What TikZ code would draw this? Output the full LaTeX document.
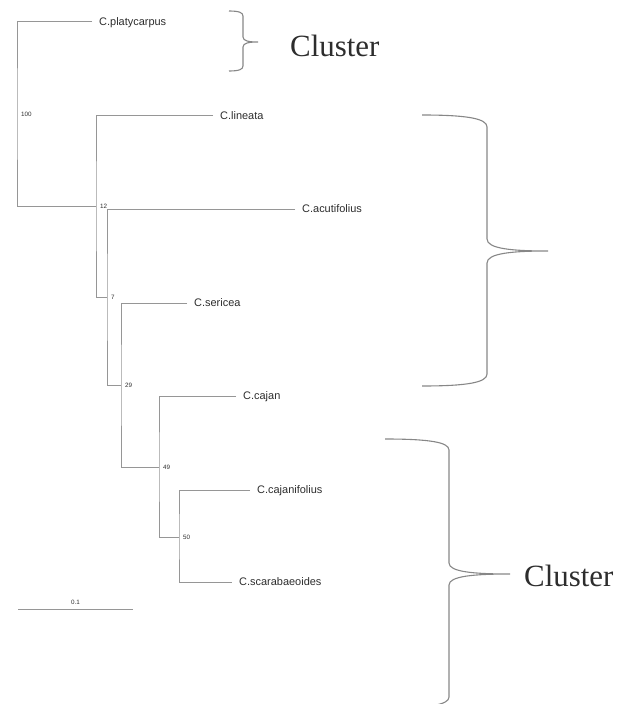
\documentclass[tikz,border=0pt]{standalone}
\usepackage{fontspec}
\setmainfont{Liberation Serif}
\newfontfamily\taxfont{Liberation Sans}
\usetikzlibrary{positioning}
\definecolor{branchgray}{RGB}{150,150,150}
\definecolor{textgray}{RGB}{45,45,45}
\newcommand{\clusterbrace}[7]{%
  \draw[clbrace] (#1,#4) .. controls ({#2-0.3*(#2-#1)},#4) and (#2,{#4+0.3*#7}) .. (#2,{#4+#7})
    -- (#2,{#5-#7}) .. controls (#2,{#5-0.2*#7}) and ({#2+0.4*(#3-#2)},#5) .. (#3,#5)
    .. controls ({#2+0.4*(#3-#2)},#5) and (#2,{#5+0.2*#7}) .. (#2,{#5+#7})
    -- (#2,{#6-#7}) .. controls (#2,{#6-0.3*#7}) and ({#2-0.3*(#2-#1)},#6) .. (#1,#6);}

\begin{document}
\begin{tikzpicture}[
  x=1bp, y=-1bp,
  branch/.style={draw=branchgray, line width=1bp},
  taxon/.style={font=\taxfont\fontsize{11}{11}\selectfont, text=textgray, anchor=west, inner xsep=7bp, inner ysep=0pt, text height=7.9bp, text depth=0pt},
  boot/.style={font=\taxfont\fontsize{6.3}{6.3}\selectfont, text=textgray, anchor=west, inner sep=0pt, xshift=4bp, text height=4.5bp, text depth=0pt},
  clbrace/.style={draw=branchgray!90!black, line width=1.1bp},
  cluster/.style={font=\fontsize{31}{31}\selectfont, text=textgray, anchor=west, inner sep=0pt}
]
\useasboundingbox (0,0) rectangle (629,704);

\coordinate (root) at (17,114);
\coordinate (n12) at (96,206);
\coordinate (n7) at (107,297);
\coordinate (n29) at (121,385);
\coordinate (n49) at (159,467);
\coordinate (n50) at (179,537);

\node[taxon] (plat) at (92,22) {C.platycarpus};
\node[taxon] (lin) at (213,116) {C.lineata};
\node[taxon] (acu) at (295,209) {C.acutifolius};
\node[taxon] (ser) at (187,303) {C.sericea};
\node[taxon] (caj) at (236,396) {C.cajan};
\node[taxon] (cjf) at (250,490) {C.cajanifolius};
\node[taxon] (sca) at (232,582) {C.scarabaeoides};

\draw[branch] (plat.west) -| (root) |- (n12);
\draw[branch] (lin.west) -| (n12) |- (n7);
\draw[branch] (acu.west) -| (n7) |- (n29);
\draw[branch] (ser.west) -| (n29) |- (n49);
\draw[branch] (caj.west) -| (n49) |- (n50);
\draw[branch] (cjf.west) -| (n50) |- (sca.west);

\node[boot] (b100) at (root) {100};
\node[boot] (b12) at (n12) {12};
\node[boot] (b7) at (n7) {7};
\node[boot] (b29) at (n29) {29};
\node[boot] (b49) at (n49) {49};
\node[boot] (b50) at (n50) {50};

\coordinate (sbl) at (18,609);
\coordinate (sbr) at (133,609);
\draw[branch] (sbl) -- node[font=\taxfont\fontsize{6.3}{6.3}\selectfont, text=textgray, inner sep=0pt, above=3.5bp] (scale) {0.1} (sbr);

\clusterbrace{229}{243}{258}{11}{42}{71}{5}
\clusterbrace{422}{487}{548}{115}{251}{386}{12}
\clusterbrace{385}{449}{510}{439}{574}{708}{11}

\node[cluster] (cl1) at (290,46) {Cluster};
\node[cluster] (cl2) at (524,576) {Cluster};
\end{tikzpicture}
\end{document}
